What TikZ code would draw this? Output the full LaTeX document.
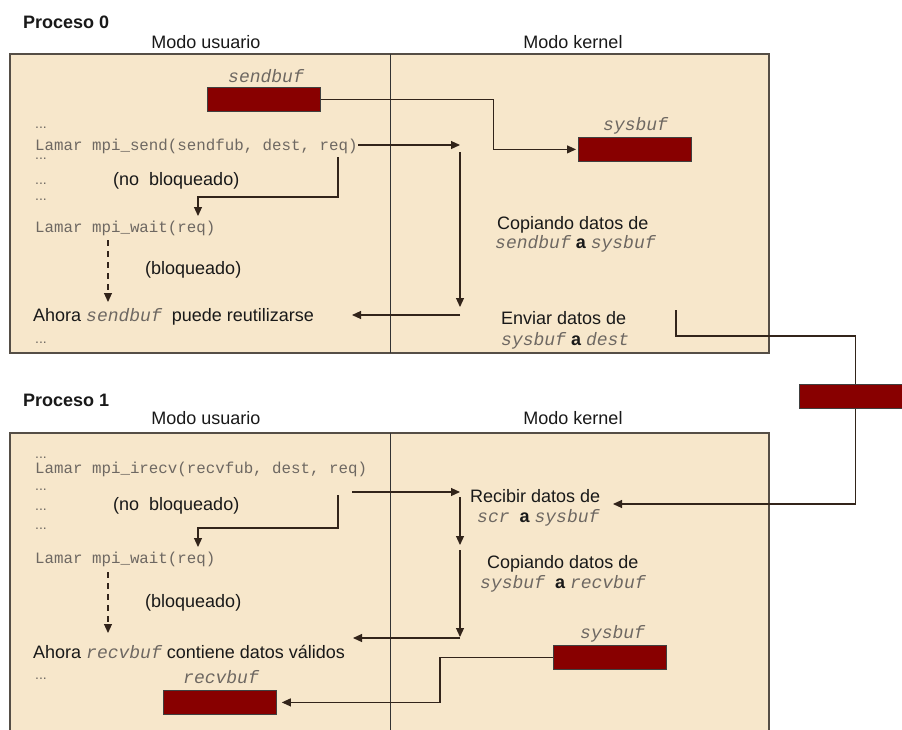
\documentclass[tikz,border=0pt]{standalone}
\usepackage{fontspec}
\setmainfont{Liberation Sans}
\setmonofont{Liberation Mono}
\usetikzlibrary{arrows.meta}
\definecolor{boxfill}{RGB}{247,231,203}
\definecolor{boxline}{RGB}{85,78,70}
\definecolor{bufred}{RGB}{136,0,0}
\definecolor{codegrey}{RGB}{110,104,98}
\definecolor{wirec}{RGB}{50,36,26}
\newcommand\mycv[1]{{\fontsize{18}{20}\selectfont\ttfamily\itshape\color{codegrey}#1}}
\begin{document}
\begin{tikzpicture}[x=1pt,y=-1pt,
  sans/.style={font=\fontsize{18}{20}\selectfont, inner sep=0pt, anchor=base west, text=black!90},
  head/.style={font=\fontsize{18}{20}\selectfont, inner sep=0pt, anchor=base, text=black!90},
  proc/.style={font=\fontsize{18}{20}\selectfont\bfseries, inner sep=0pt, anchor=base west, text=black!90},
  code/.style={font=\fontsize{15.8}{18}\selectfont\ttfamily, inner sep=0pt, anchor=base west, text=codegrey},
  dots/.style={font=\fontsize{14}{16}\selectfont, inner sep=0pt, anchor=base west, text=codegrey},
  lbl/.style={font=\fontsize{18}{20}\selectfont\ttfamily\itshape, inner sep=0pt, anchor=base west, text=codegrey},
  buf/.style={draw=black!75, fill=bufred, line width=0.8pt, minimum width=113pt, minimum height=24pt, inner sep=0pt, anchor=north west},
  panel/.style={draw=boxline, fill=boxfill, line width=1.4pt},
  divider/.style={draw=black!80, line width=1pt},
  wire/.style={draw=wirec, line width=1.1pt},
  arr/.style={wire, -{Triangle[length=9pt,width=8pt]}},
  darr/.style={arr, dash pattern=on 6pt off 5pt},
]
\useasboundingbox (0,0) rectangle (902,729);
\clip (0,0) rectangle (902,729);
\fill[white] (0,0) rectangle (902,729);

% ---------- panels ----------
\path[panel] (10,54) rectangle (769,353);
\draw[divider] (390,54) -- (390,353);
\path[panel] (10,433) rectangle (769,745);
\draw[divider] (390,433) -- (390,745);

% ---------- Proceso 0 ----------
\node[proc] (p0) at (23,28) {Proceso 0};
\node[head] (mu0) at (206,48) {Modo usuario};
\node[head] (mk0) at (573,48) {Modo kernel};

\node[lbl] (lsend) at (228,82) {sendbuf};
\node[buf] (bsend) at (207,87) {};
\node[lbl] (lsys) at (603,130) {sysbuf};
\node[buf] (bsys) at (578,137) {};

\node[dots] (d01) at (35,128) {...};
\node[code] (send) at (35,150) {Lamar mpi\_send(sendfub, dest, req)};
\node[dots] (d02) at (35,159) {...};
\node[dots] (d03) at (35,184) {...};
\node[sans] (nob0) at (113,185) {(no\ \ bloqueado)};
\node[dots] (d04) at (35,200) {...};
\node[code] (wait0) at (35,232) {Lamar mpi\_wait(req)};
\node[sans] (blo0) at (145,274) {(bloqueado)};
\node[sans] (ahora0) at (33,321) {Ahora \mycv{sendbuf}\ \ puede reutilizarse};
\node[dots] (d05) at (35,343) {...};

\node[sans] (cop1) at (497,229) {Copiando datos de};
\node[sans] (cop2) at (495,248) {\mycv{sendbuf} {\bfseries a} \mycv{sysbuf}};
\node[sans] (env1) at (501,324) {Enviar datos de};
\node[sans] (env2) at (501,345) {\mycv{sysbuf} {\bfseries a} \mycv{dest}};

% network buffer
\node[buf] (bnet) at (799,384) {};

% coordinates for free ends (top)
\coordinate (s0) at (358,145);
\coordinate (k1) at (460,145);
\coordinate (k2) at (460,152);
\coordinate (k3) at (460,307);
\coordinate (k4) at (460,315);
\coordinate (k5) at (352,315);
\coordinate (n1) at (338,157);
\coordinate (n2) at (338,197);
\coordinate (n3) at (198,216);
\coordinate (w1) at (108,240);
\coordinate (w2) at (108,302);
\coordinate (e1) at (676,310);
\coordinate (e2) at (676,336);
\coordinate (r0) at (613,504);

\draw[arr, shorten >=2pt] (bsend.east) -- ++(173,0) |- (bsys.west);
\draw[arr] (s0) -- (k1);
\draw[arr] (k2) -- (k3);
\draw[arr] (k4) -- (k5);
\draw[arr] (n1) -- (n2) -| (n3);
\draw[darr] (w1) -- (w2);
\draw[wire] (e1) -- (e2) -| (bnet.north);
\draw[arr] (bnet.south) |- (r0);

% ---------- Proceso 1 ----------
\node[proc] (p1) at (23,406) {Proceso 1};
\node[head] (mu1) at (206,424) {Modo usuario};
\node[head] (mk1) at (573,424) {Modo kernel};

\node[dots] (d11) at (35,458) {...};
\node[code] (irecv) at (35,473) {Lamar mpi\_irecv(recvfub, dest, req)};
\node[dots] (d12) at (35,490) {...};
\node[dots] (d13) at (35,510) {...};
\node[sans] (nob1) at (113,510) {(no\ \ bloqueado)};
\node[dots] (d14) at (35,529) {...};
\node[code] (wait1) at (35,563) {Lamar mpi\_wait(req)};
\node[sans] (blo1) at (145,607) {(bloqueado)};
\node[sans] (ahora1) at (33,658) {Ahora \mycv{recvbuf} contiene datos válidos};
\node[dots] (d15) at (35,679) {...};
\node[lbl] (lrecv) at (183,683) {recvbuf};
\node[buf] (brecv) at (163,690) {};

\node[sans] (rec1) at (470,502) {Recibir datos de};
\node[sans] (rec2) at (477,522) {\mycv{scr} \ {\bfseries a} \mycv{sysbuf}};
\node[sans] (cop3) at (487,568) {Copiando datos de};
\node[sans] (cop4) at (480,588) {\mycv{sysbuf} \ {\bfseries a} \mycv{recvbuf}};
\node[lbl] (lsys2) at (580,638) {sysbuf};
\node[buf] (bsys2) at (553,645) {};

% coordinates for free ends (bottom)
\coordinate (i0) at (352,492);
\coordinate (i1) at (460,492);
\coordinate (q1) at (460,497);
\coordinate (q2) at (460,545);
\coordinate (q3) at (460,550);
\coordinate (q4) at (460,637);
\coordinate (q5) at (460,638);
\coordinate (q6) at (353,638);
\coordinate (m1) at (338,495);
\coordinate (m2) at (338,528);
\coordinate (m3) at (198,547);
\coordinate (v1) at (108,572);
\coordinate (v2) at (108,633);
\coordinate (b1) at (440,680);

\draw[arr] (i0) -- (i1);
\draw[arr] (q1) -- (q2);
\draw[arr] (q3) -- (q4);
\draw[arr] (q5) -- (q6);
\draw[arr] (m1) -- (m2) -| (m3);
\draw[darr] (v1) -- (v2);
\draw[arr, shorten >=5pt] (bsys2.west) -| (b1) |- (brecv.east);
\end{tikzpicture}
\end{document}
